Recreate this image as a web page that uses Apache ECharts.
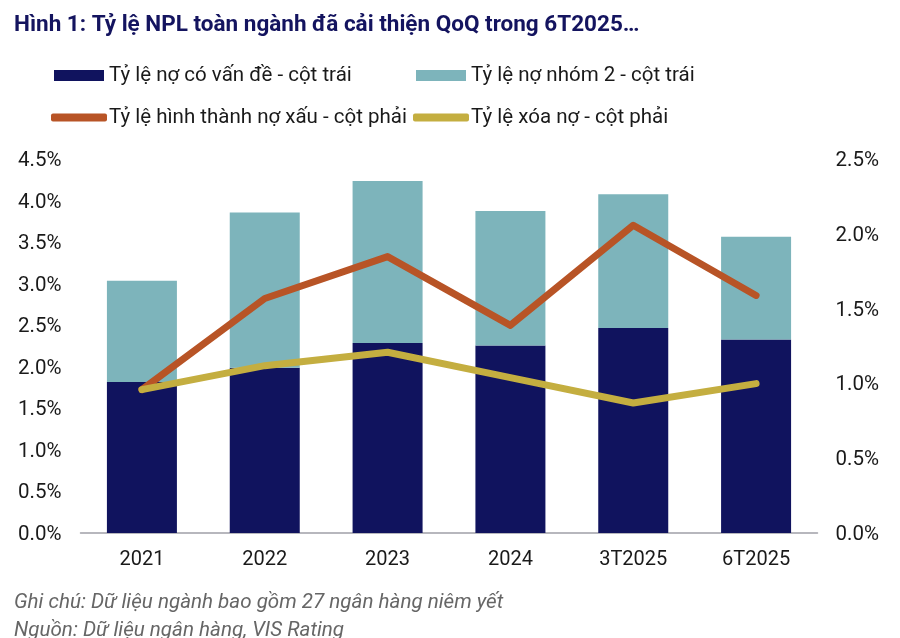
<!DOCTYPE html>
<html><head><meta charset="utf-8">
<script src="https://cdn.jsdelivr.net/npm/echarts@6/dist/echarts.min.js"></script>
<style>html,body{margin:0;padding:0;background:#fff}#c{width:900px;height:638px}</style></head>
<body><div id="c"></div>
<script>
const categories=['2021','2022','2023','2024','3T2025','6T2025'];
const problemRatio=[1.82,1.99,2.29,2.26,2.47,2.33];
const group2Ratio=[1.22,1.87,1.95,1.62,1.61,1.24];
const formationRate=[0.96,1.57,1.85,1.39,2.06,1.59];
const writeoffRate=[0.96,1.12,1.21,1.04,0.87,1.00];
const leftTicks={min:0,max:4.5,interval:0.5};
const rightTicks={min:0,max:2.5,interval:0.5};
const names=['Tỷ lệ nợ có vấn đề - cột trái','Tỷ lệ nợ nhóm 2 - cột trái','Tỷ lệ hình thành nợ xấu - cột phải','Tỷ lệ xóa nợ - cột phải'];
const font='Roboto';
const chart=echarts.init(document.getElementById('c'),null,{renderer:'canvas'});
const legendText={fontFamily:font,fontSize:20.5,color:'#1a1a1a'};
const legendBar={itemWidth:50,itemHeight:11,textStyle:legendText,itemGap:0};
const legendLine={itemWidth:56,itemHeight:8,textStyle:{...legendText,padding:[0,0,0,-3]},itemGap:0};
const fmt=v=>'{a|'+v.toFixed(1)+'%}';
const noteStyle={fontFamily:font,fontSize:20.6,fontWeight:'normal',fontStyle:'italic',color:'#666666'};
const yLabel={formatter:fmt,rich:{a:{fontFamily:font,fontSize:20.5,color:'#1a1a1a',padding:[3,0,0,0]}}};
chart.setOption({
 animation:false,
 textStyle:{fontFamily:font},
 title:[
  {text:'Hình 1: Tỷ lệ NPL toàn ngành đã cải thiện QoQ trong 6T2025…',left:9,top:9,textStyle:{fontFamily:font,fontSize:22.5,fontWeight:'bold',color:'#14145f'}},
  {text:'Ghi chú: Dữ liệu ngành bao gồm 27 ngân hàng niêm yết',left:9,top:587,textStyle:noteStyle},
  {text:'Nguồn: Dữ liệu ngân hàng, VIS Rating',left:9,top:615,textStyle:noteStyle}
 ],
 legend:[
  {...legendBar,data:[{name:names[0],icon:'rect'}],left:49,top:60},
  {...legendBar,data:[{name:names[1],icon:'rect'}],left:411,top:60},
  {...legendLine,data:[{name:names[2],icon:'roundRect'}],left:46,top:102},
  {...legendLine,data:[{name:names[3],icon:'roundRect'}],left:408,top:102}
 ],
 grid:{left:80.5,right:82.5,top:159.5,bottom:105,containLabel:false},
 xAxis:{type:'category',data:categories,axisTick:{show:false},
  axisLine:{lineStyle:{color:'#a0a0a8',width:1.5}},
  axisLabel:{fontFamily:font,fontSize:20,color:'#1a1a1a',margin:17}},
 yAxis:[
  {type:'value',...leftTicks,splitLine:{show:false},axisLine:{show:false},axisTick:{show:false},
   axisLabel:{...yLabel,margin:19}},
  {type:'value',...rightTicks,position:'right',splitLine:{show:false},axisLine:{show:false},axisTick:{show:false},
   axisLabel:{...yLabel,margin:18}}
 ],
 series:[
  {name:names[0],type:'bar',stack:'a',data:problemRatio,barWidth:70,itemStyle:{color:'#10135e'}},
  {name:names[1],type:'bar',stack:'a',data:group2Ratio,barWidth:70,itemStyle:{color:'#7db4bb'}},
  {name:names[2],type:'line',yAxisIndex:1,data:formationRate,symbol:'none',lineStyle:{color:'#b85426',width:7,cap:'round',join:'round'},itemStyle:{color:'#b85426'}},
  {name:names[3],type:'line',yAxisIndex:1,data:writeoffRate,symbol:'none',lineStyle:{color:'#c4ae40',width:7,cap:'round',join:'round'},itemStyle:{color:'#c4ae40'}}
 ]
});
</script></body></html>
